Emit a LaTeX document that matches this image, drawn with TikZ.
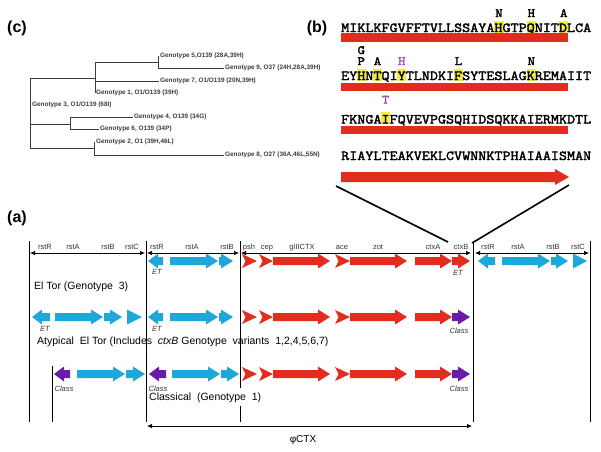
\documentclass[tikz,border=0pt]{standalone}
\usepackage{fontspec}
\setmainfont{Liberation Sans}
\newfontfamily\seqfont[FakeStretch=1.143,FakeBold=2.4]{Latin Modern Mono}
\usetikzlibrary{arrows.meta,calc}
\definecolor{genered}{RGB}{226,45,30}
\definecolor{geneblue}{RGB}{30,168,218}
\definecolor{genepurple}{RGB}{106,27,168}
\definecolor{hilite}{RGB}{244,232,70}
\definecolor{mutpurple}{RGB}{150,70,175}
\definecolor{treegray}{RGB}{60,60,60}

% gene shapes: start, end, row, colour
\newcommand{\generight}[4]{\fill[#4] (#1,#3-4) -- (#2-12,#3-4) -- (#2-12,#3-7.5) -- (#2,#3) -- (#2-12,#3+7.5) -- (#2-12,#3+4) -- (#1,#3+4) -- cycle;}
\newcommand{\geneleft}[4]{\fill[#4] (#1,#3) -- (#1+10,#3-7.5) -- (#1+10,#3-4) -- (#2,#3-4) -- (#2,#3+4) -- (#1+10,#3+4) -- (#1+10,#3+7.5) -- cycle;}
\newcommand{\genetri}[4]{\fill[#4] (#1,#3-7.5) -- (#2,#3) -- (#1,#3+7.5) -- cycle;}
\newcommand{\genechev}[4]{\fill[#4] (#1,#3-7) -- (#2,#3) -- (#1,#3+7) -- (#1+3.5,#3) -- cycle;}

\tikzset{
  panel/.style={font=\fontsize{16}{18}\selectfont\bfseries, inner sep=0pt},
  treeline/.style={treegray, line width=0.8pt},
  treelbl/.style={font=\fontsize{6.4}{7}\selectfont\bfseries, text=treegray, anchor=west, inner sep=1pt},
  seqtxt/.style={font=\seqfont\fontsize{13.7}{14}\selectfont, anchor=base west, inner sep=0pt},
  mut/.style={font=\seqfont\fontsize{12.5}{13}\selectfont, anchor=base, inner sep=0pt},
  genelbl/.style={font=\fontsize{7.5}{8}\selectfont, text=black!80, inner sep=0pt},
  tag/.style={font=\fontsize{7.5}{8}\selectfont\itshape, text=black!80, inner sep=0pt},
  rowlbl/.style={font=\fontsize{10.5}{12}\selectfont, anchor=west, inner sep=0pt},
  span/.style={line width=0.7pt, {Latex[length=5pt,width=4.5pt]}-{Latex[length=5pt,width=4.5pt]}},
  border/.style={line width=0.9pt},
}

\begin{document}
\begin{tikzpicture}[x=1pt, y=-1pt]
\useasboundingbox (0,0) rectangle (601,451);

\node[panel] (pc) at (17,28) {(c)};
\node[panel] (pb) at (317,28) {(b)};
\node[panel] (pa) at (17,218) {(a)};

% (c) tree
\node[treelbl] (g5) at (159,56) {Genotype 5,O139 (28A,39H)};
\node[treelbl] (g9) at (224,68) {Genotype 9, O37 (24H,28A,39H)};
\node[treelbl] (g7) at (159,81) {Genotype 7, O1/O139 (20N,39H)};
\node[treelbl] (g1) at (95,93) {Genotype 1, O1/O139 (39H)};
\node[treelbl] (g3) at (31,105) {Genotype 3, O1/O139 (68I)};
\node[treelbl] (g4) at (133,117) {Genotype 4, O139 (34G)};
\node[treelbl] (g6) at (99,129) {Genotype 6, O139 (34P)};
\node[treelbl] (g2) at (95,142) {Genotype 2, O1 (39H,46L)};
\node[treelbl] (g8) at (224,155) {Genotype 8, O27 (36A,46L,55N)};
\coordinate (root) at (30,78);
\coordinate (n1) at (95,78);
\coordinate (n2) at (158,62);
\coordinate (n3) at (70,124);
\coordinate (n4) at (94,148);
\draw[treeline] (root) -- (30,148);
\draw[treeline] (root) -- (n1);
\draw[treeline] (n1 |- n2) -- (n1 |- g1.west);
\draw[treeline] (n1 |- n2) -- (n2);
\draw[treeline] (n2 |- g5.west) -- (n2 |- g9.west) -- (g9.west);
\draw[treeline] (n1 |- g7.west) -- (g7.west);
\draw[treeline] (30,124) -- (n3);
\draw[treeline] (n3 |- g4.west) -- (n3 |- g6.west);
\draw[treeline] (n3 |- g4.west) -- (g4.west);
\draw[treeline] (n3 |- g6.west) -- (g6.west);
\draw[treeline] (30,148) -- (n4);
\draw[treeline] (n4 |- g2.west) -- (n4 |- g8.west) -- (g8.west);

% (b) ctxB sequence
\foreach \i in {19,23,27} \fill[hilite] (341+\i*8.1-0.5,21) rectangle (341+\i*8.1+8.6,33);
\foreach \i in {2,4,7,14,23} \fill[hilite] (341+\i*8.1-0.5,69) rectangle (341+\i*8.1+8.6,81);
\fill[hilite] (341+5*8.1-0.5,112) rectangle (341+5*8.1+8.6,124);
\node[seqtxt] (s1) at (341,32) {MIKLKFGVFFTVLLSSAYAHGTPQNITDLCA};
\node[seqtxt] (s2) at (341,80) {EYHNTQIYTLNDKIFSYTESLAGKREMAIIT};
\node[seqtxt] (s3) at (341,123.5) {FKNGAIFQVEVPGSQHIDSQKKAIERMKDTL};
\node[seqtxt] (s4) at (341,160) {RIAYLTEAKVEKLCVWNNKTPHAIAAISMAN};
\node[mut] at (341+19*8.1+4.05,17) {N};
\node[mut] at (341+23*8.1+4.05,17) {H};
\node[mut] at (341+27*8.1+4.05,17) {A};
\node[mut] at (341+2*8.1+4.05,54) {G};
\node[mut] at (341+2*8.1+4.05,65) {P};
\node[mut] at (341+4*8.1+4.05,65) {A};
\node[mut, text=mutpurple] at (341+7*8.1+4.05,65) {H};
\node[mut] at (341+14*8.1+4.05,65) {L};
\node[mut] at (341+23*8.1+4.05,65) {N};
\node[mut, text=mutpurple] at (341+5*8.1+4.05,103.5) {T};
\fill[genered] (341,33) rectangle (568,42);
\fill[genered] (341,83) rectangle (568,91);
\fill[genered] (341,126) rectangle (568,134);
\fill[genered] (341,172) -- (555,172) -- (555,169) -- (569,177) -- (555,185) -- (555,182) -- (341,182) -- cycle;
\coordinate (zl) at (336,186);
\coordinate (zr) at (569,185);
\coordinate (cl) at (448,242);
\coordinate (cr) at (472,243);
\draw[line width=1.6pt] (zl) -- (cl);
\draw[line width=1.6pt] (zr) -- (cr);

% (a) gene map
\draw[border] (29,241) -- (29,422);
\draw[border] (146,241) -- (146,422);
\draw[border] (240,241) -- (240,388);
\draw[border] (240,406) -- (240,422);
\draw[border] (473,241) -- (473,422);
\draw[border] (590,241) -- (590,422);
\draw[border] (52,366) -- (52,422);

\draw[span] (30,253) -- (145,253);
\draw[span] (147,253) -- (239,253);
\draw[span] (241,253) -- (471,253);
\draw[span] (475,253) -- (589,253);

\foreach \x/\t in {45/rstR,73/rstA,108/rstB,132/rstC,157/rstR,192/rstA,227/rstB,
  249/psh,267/cep,302/gIIICTX,342/ace,378/zot,433/ctxA,461/ctxB,
  488/rstR,518/rstA,553/rstB,578/rstC}
  \node[genelbl, anchor=base] at (\x,249.5) {\t};

% CTX prophage, all three rows
\foreach \y in {261,317,374} {
  \genechev{242}{257}{\y}{genered}
  \genechev{259}{273}{\y}{genered}
  \generight{273}{330}{\y}{genered}
  \genechev{335}{350}{\y}{genered}
  \generight{350}{407}{\y}{genered}
  \generight{415}{452}{\y}{genered}
}
\generight{452}{470}{261}{genered}
\generight{452}{470}{317}{genepurple}
\generight{452}{470}{374}{genepurple}

% row 1: El Tor
\geneleft{148}{163}{261}{geneblue}
\generight{170}{218}{261}{geneblue}
\generight{219}{233}{261}{geneblue}
\geneleft{478}{495}{261}{geneblue}
\generight{502}{550}{261}{geneblue}
\generight{551}{568}{261}{geneblue}
\genetri{573}{587}{261}{geneblue}
\node[tag] at (157,272) {ET};
\node[tag] at (458,273) {ET};
\node[rowlbl] (eltor) at (34,287) {El Tor (Genotype\ \ 3)};

% row 2: atypical El Tor
\geneleft{32}{50}{317}{geneblue}
\generight{55}{103}{317}{geneblue}
\generight{104}{122}{317}{geneblue}
\genetri{127}{142}{317}{geneblue}
\geneleft{148}{163}{317}{geneblue}
\generight{170}{218}{317}{geneblue}
\generight{219}{233}{317}{geneblue}
\node[tag] at (45,329) {ET};
\node[tag] at (157,329) {ET};
\node[tag] at (459,331) {Class};
\node[rowlbl] (atyp) at (37,342) {Atypical\ \ El Tor (Includes\ \ \textit{ctxB} Genotype\ \ variants\ \ 1,2,4,5,6,7)};

% row 3: classical
\geneleft{54}{70}{374}{genepurple}
\generight{77}{125}{374}{geneblue}
\generight{126}{145}{374}{geneblue}
\geneleft{149}{166}{374}{genepurple}
\generight{172}{220}{374}{geneblue}
\generight{221}{239}{374}{geneblue}
\node[tag] at (64,389) {Class};
\node[tag] at (158,389) {Class};
\node[tag] at (459,389) {Class};
\node[rowlbl] (class) at (149,398) {Classical\ \ (Genotype\ \ 1)};

\draw[span] (147,426) -- (472,426);
\node[font=\fontsize{10}{12}\selectfont] (phictx) at (303,440) {φCTX};

\end{tikzpicture}
\end{document}
